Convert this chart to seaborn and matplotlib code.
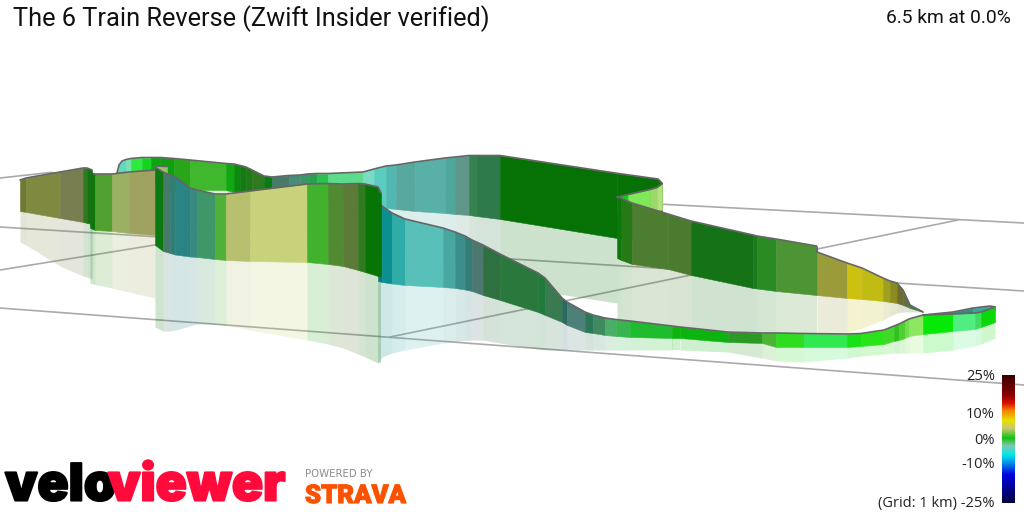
import numpy as np
import pandas as pd
import seaborn as sns
import matplotlib.pyplot as plt
import matplotlib.patheffects as pe
from matplotlib.colors import LinearSegmentedColormap

# grid lines
grid_id = [0, 0, 1, 1, 2, 2, 3, 3, 4, 4, 5, 5]
grid_x = [0, 50, 50, 1024, 0, 1024, 0, 1024, 0, 470, 390, 958]
grid_y = [178, 172.5, 172.5, 223, 227, 291, 308, 385, 270, 194, 337, 220]

# back ribbon
back_x = [117, 119, 122, 126, 131, 142, 151, 160, 174, 190, 226, 234, 240, 246, 252, 264, 272, 289, 300, 308, 317, 328, 340, 363, 374, 386, 396, 415, 445, 455, 469, 476, 500, 617, 658, 662]
back_top = [173, 165, 161, 159.5, 158.5, 157.5, 157.5, 157.5, 158.5, 160, 163.5, 164, 165.5, 167, 170, 176, 177, 175.5, 175, 174, 173.5, 173.5, 173, 172, 169, 166, 165, 162, 158, 157, 155.5, 155.5, 155.5, 173.3, 179, 183]
back_bot = [173, 176, 178, 180, 180, 180, 180, 190, 190, 190, 190, 192, 194, 196, 198, 203, 205, 205, 205, 205, 205, 205, 205, 206, 207, 208, 209, 211, 213, 214, 215, 216, 219, 238, 244, 246]
back_shade = [225, 225, 225, 225, 225, 225, 225, 225, 225, 225, 225, 230, 230, 230, 230, 230, 230, 232, 234, 236, 236, 238, 238, 240, 241, 242, 245, 250, 262, 266, 272, 275, 285, 303, 300, 295]
back_col = ["#5fd8c0", "#5fd8c0", "#5fd8c0", "#7ae0b0", "#30e840", "#14d420", "#0aa810", "#0f9f10", "#2aa51a", "#3fb82e", "#10a810", "#0c8a0c", "#157a12", "#1e7a18", "#2f7a1e", "#0a7a12", "#487a6a", "#4a8a78", "#3c9468", "#2aa050", "#2cc050", "#5cdc88", "#5cdc8a", "#78dcc4", "#5accc0", "#50b8b0", "#58a8a0", "#58b0a8", "#50a89c", "#5f9688", "#34824e", "#2f7a4a", "#067206", "#067206", "#067206"]

# inside of the fold at the far right of the back ribbon
fold_x = [617, 628, 650, 657, 662]
fold_top = [197, 194.5, 189.5, 187.5, 184]
fold_bot = [210, 210, 210, 210, 210]
fold_col = ["#12d012", "#7ee858", "#9ad868", "#b4e080"]

# right hand ribbon
right_x = [617, 621, 632, 668, 691, 753, 757, 776, 816.5, 817, 847, 862, 883, 890, 897, 903, 910, 923]
right_top = [197, 198, 203, 214, 221, 235, 236, 239, 246, 252, 263, 268, 278, 281, 283, 290, 305, 312]
right_bot = [258, 260, 264, 269, 275, 288, 288.5, 291, 295, 295, 298, 299, 301, 302, 303, 305, 308, 312]
right_shade = [320, 321, 322, 326, 328, 332, 333, 334, 335, 335, 333, 328, 320, 316, 313, 312, 312, 312]
right_col = ["#0a780a", "#267a16", "#4d7d30", "#4a7b2e", "#167216", "#1c7a1a", "#2a8a24", "#4c9434", "#4c9434", "#9a9c3c", "#ccc010", "#c0bc14", "#a0a020", "#8a8c20", "#706c30", "#607040", "#407a40"]

# small far part at the right end
end_x = [923, 953, 973, 990, 995]
end_top = [315, 312, 308, 306, 307]
end_bot = [316, 316, 314, 312, 310]
end_col = ["#4a7a60", "#3a8a80", "#3aa898", "#3aa898"]

# near ribbon
near_x = [378, 382, 392, 405, 443, 455, 465, 472, 483, 500, 538, 545, 562, 567, 585, 593, 605, 616, 630, 672, 680, 728, 762, 776, 804, 847, 861, 884, 894, 899, 905, 909, 923, 953, 975, 981, 995]
near_top = [200, 206, 213, 219, 228, 232, 236, 240, 245, 254, 273, 278, 298, 302, 312, 315, 318, 319.5, 321, 326, 327, 332, 333, 333, 333.5, 334, 333.5, 330, 326, 324, 321, 319, 315, 314, 313, 312, 307]
near_bot = [281, 282, 283.5, 285, 287, 288, 289.5, 291, 295, 300, 312, 315, 322, 325, 332, 333, 335, 336, 337, 338, 338, 342, 343, 347, 347, 347, 346, 344, 341, 340, 338, 336, 334, 331, 329, 327, 322]
near_shade = [363, 357, 353, 350, 343, 341.5, 340.5, 340, 340, 343, 349, 350, 350, 350, 350, 350, 350, 350, 350, 350, 350, 352, 358, 361, 362, 358, 356, 354, 353, 353, 353, 353, 353, 350, 346, 344, 338]
near_col = ["#0a7a80", "#0a9090", "#30aca8", "#58c0b8", "#48a8a0", "#3c8e88", "#347c78", "#4c7870", "#2f7040", "#2a783c", "#207a3a", "#3a7a50", "#2a6860", "#4c8078", "#2a7858", "#408a60", "#4aae68", "#38b450", "#20bc30", "#0cb40c", "#0cb410", "#2a9a24", "#4cb434", "#30dc20", "#30e850", "#18e018", "#28e418", "#40d828", "#30c020", "#50d030", "#70dc50", "#8ce860", "#06e806", "#50ee80", "#40dc60", "#0ad80a"]

# small curl behind the front ribbon
curl_x = [155, 167]
curl_top = [166, 166.5]
curl_bot = [174, 176]
curl_col = ["#9cc060"]

# front ribbon
front_x = [155, 163, 170, 175, 190, 197, 215, 226, 250, 307, 328, 343, 358, 365, 378, 381]
front_top = [167, 172, 175, 176.5, 188, 190, 194, 194, 191, 184, 183.5, 184, 183.5, 184, 187, 193]
front_bot = [245, 251, 253, 254.5, 256.5, 257, 259, 260, 261, 262, 264, 266, 270, 272, 276, 276]
front_shade = [327, 331, 331, 330, 326, 324, 324, 325, 330, 340, 344, 348, 354, 357, 363, 363]
front_col = ["#0a7a10", "#487868", "#2f7f78", "#2a8484", "#388a80", "#3f9668", "#50b038", "#b8c070", "#c8d27a", "#40b22e", "#528a34", "#5c7a38", "#327a22", "#077506", "#077506"]

# left ribbons
left2_x = [90, 95, 112, 129, 155]
left2_top = [173, 174, 174, 172, 170]
left2_bot = [228, 230, 231, 233, 235]
left2_shade = [283, 284.5, 288, 292, 298]
left2_col = ["#087808", "#50a030", "#9cb064", "#a0a260"]

left1_x = [20, 26, 60, 83, 87, 92]
left1_top = [180, 178, 172, 168, 168, 170]
left1_bot = [211, 212, 218, 222, 223, 224]
left1_shade = [242, 245, 266, 276, 277, 279]
left1_col = ["#6f7a30", "#7f8a40", "#787e50", "#2e7a20", "#187212"]

# gradient scale, top to bottom
scale_pos = [0.0, 0.156, 0.219, 0.273, 0.352, 0.414, 0.492, 0.555, 0.625, 0.688, 0.781, 1.0]
scale_col = ["#3a0000", "#8a0000", "#e01000", "#f08000", "#e8e000", "#c8c870", "#10c010", "#80c8b0", "#00e8e8", "#0090e8", "#0000e0", "#000040"]
scale_labels = ["25%", "10%", "0%", "-10%", "(Grid: 1 km) -25%"]
scale_label_y = [376, 414, 440, 465, 503]


def shadow(ax, x, bot, shade, col):
    for i, c in enumerate(col):
        ax.fill_between(x[i:i + 2], bot[i:i + 2], shade[i:i + 2], color=c, alpha=0.2, lw=0, zorder=1)


def panel(ax, x, top, bot, col, z):
    for i, c in enumerate(col):
        ax.fill_between(x[i:i + 2], top[i:i + 2], bot[i:i + 2], facecolor=c, edgecolor=c, lw=0.4, zorder=z)
    sns.lineplot(x=x, y=top, sort=False, estimator=None, color="#666666", lw=1.2, ax=ax, zorder=z + 0.5)


sns.set_theme(style="white")
fig = plt.figure(figsize=(10.24, 5.12), dpi=100)
ax = fig.add_axes([0, 0, 1, 1])

grid = pd.DataFrame({"id": grid_id, "x": grid_x, "y": grid_y})
sns.lineplot(data=grid, x="x", y="y", units="id", estimator=None, sort=False, color="#aaaaaa", lw=1.2, ax=ax, zorder=0.5)

# the far ribbon's shadow stops where the right hand ribbon takes over
shadow(ax, back_x[:34], back_bot[:34], back_shade[:34], back_col[:33])
shadow(ax, right_x, right_bot, right_shade, right_col)
shadow(ax, near_x, near_bot, near_shade, near_col)
shadow(ax, front_x, front_bot, front_shade, front_col)
shadow(ax, left2_x, left2_bot, left2_shade, left2_col)
shadow(ax, left1_x, left1_bot, left1_shade, left1_col)

panel(ax, back_x, back_top, back_bot, back_col, 2)
panel(ax, fold_x, fold_top, fold_bot, fold_col, 3)
panel(ax, right_x, right_top, right_bot, right_col, 4)
panel(ax, end_x, end_top, end_bot, end_col, 5)
panel(ax, near_x, near_top, near_bot, near_col, 6)
panel(ax, curl_x, curl_top, curl_bot, curl_col, 7)
panel(ax, left2_x, left2_top, left2_bot, left2_col, 8)
panel(ax, front_x, front_top, front_bot, front_col, 9)
panel(ax, left1_x, left1_top, left1_bot, left1_col, 10)

ax.set_xlim(0, 1024)
ax.set_ylim(512, 0)
ax.axis("off")

# title and distance
ax.text(13, 19, "The 6 Train Reverse (Zwift Insider verified)", family="Roboto", fontsize=18.27, color="#111111", va="center")
ax.text(1011, 18, "6.5 km at 0.0%", family="Roboto", fontsize=13.85, color="#111111", va="center", ha="right")

# scale labels
for lab, y in zip(scale_labels, scale_label_y):
    ax.text(995, y, lab, family="Open Sans", fontsize=10.5, color="#222222", va="center", ha="right")

# logo
stroke = [pe.withStroke(linewidth=1.5, foreground="#000000")]
ax.text(5, 500.5, "velo", family="Inter", weight="black", fontsize=37, color="#000000", path_effects=stroke)
stroke = [pe.withStroke(linewidth=1.5, foreground="#ff0a3a")]
ax.text(108, 500.5, "viewer", family="Inter", weight="black", fontsize=37, color="#ff0a3a", path_effects=stroke)
ax.text(305, 477, "POWERED BY", family="DejaVu Sans", fontsize=7.3, color="#8a8a8a")
stroke = [pe.withStroke(linewidth=0.8, foreground="#fc5200")]
ax.text(305, 503, "STRAVA", family="Roboto", weight="black", fontsize=18.5, color="#fc5200", path_effects=stroke)

# colour scale
cax = fig.add_axes([1002 / 1024, 1 - 503 / 512, 13 / 1024, 128 / 512])
cmap = LinearSegmentedColormap.from_list("grade", list(zip(scale_pos, scale_col)))
sns.heatmap(np.linspace(0, 1, 128).reshape(-1, 1), cmap=cmap, vmin=0, vmax=1, cbar=False, xticklabels=False, yticklabels=False, ax=cax)

fig.savefig("out.png", dpi=100)
